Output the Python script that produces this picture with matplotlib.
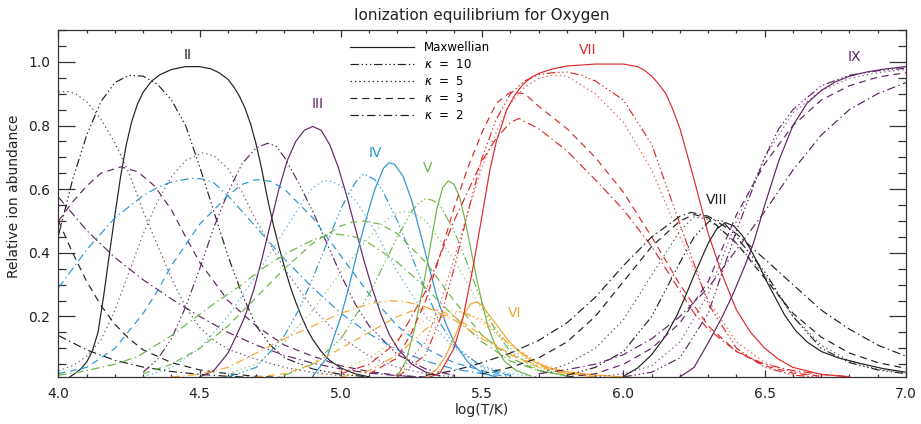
import matplotlib
matplotlib.use('Agg')
import matplotlib.pyplot as plt
from matplotlib.lines import Line2D

plt.rcParams['lines.scale_dashes'] = False
plt.rcParams['font.family'] = 'DejaVu Sans'

# ion fractions: (log T, relative abundance)
o2_max = [(4.04,0.01),(4.06,0.022),(4.08,0.036),(4.10,0.057),(4.12,0.092),(4.14,0.15),(4.16,0.265),(4.18,0.395),(4.20,0.52),(4.22,0.64),(4.24,0.74),(4.26,0.815),(4.28,0.868),(4.30,0.905),(4.33,0.94),(4.36,0.96),(4.40,0.976),(4.45,0.985),(4.50,0.985),(4.54,0.978),(4.57,0.965),(4.60,0.945),(4.62,0.922),(4.64,0.893),(4.66,0.855),(4.68,0.805),(4.70,0.74),(4.72,0.66),(4.74,0.57),(4.76,0.49),(4.78,0.42),(4.80,0.355),(4.82,0.295),(4.84,0.245),(4.86,0.20),(4.88,0.16),(4.90,0.128),(4.93,0.09),(4.96,0.062),(5.00,0.038),(5.05,0.02),(5.10,0.01)]
o2_k10 = [(4.00,0.455),(4.05,0.63),(4.10,0.77),(4.15,0.875),(4.20,0.935),(4.25,0.958),(4.30,0.955),(4.35,0.93),(4.40,0.88),(4.45,0.80),(4.50,0.67),(4.55,0.53),(4.60,0.39),(4.65,0.27),(4.70,0.17),(4.75,0.11),(4.80,0.07),(4.90,0.035),(5.00,0.018),(5.10,0.01)]
o2_k5 = [(4.00,0.905),(4.03,0.907),(4.06,0.90),(4.10,0.875),(4.15,0.82),(4.20,0.745),(4.25,0.65),(4.30,0.53),(4.35,0.425),(4.40,0.32),(4.45,0.23),(4.50,0.165),(4.55,0.125),(4.60,0.097),(4.70,0.065),(4.80,0.04),(4.90,0.024),(5.00,0.014)]
o2_k3 = [(4.00,0.50),(4.05,0.40),(4.10,0.31),(4.15,0.235),(4.20,0.175),(4.25,0.13),(4.30,0.095),(4.40,0.055),(4.50,0.032),(4.60,0.02),(4.70,0.012),(4.80,0.008)]
o2_k2 = [(4.00,0.14),(4.10,0.095),(4.20,0.062),(4.30,0.041),(4.40,0.027),(4.50,0.018),(4.60,0.012),(4.70,0.008)]

o3_max = [(4.50,0.01),(4.55,0.03),(4.60,0.085),(4.63,0.14),(4.66,0.20),(4.69,0.28),(4.72,0.38),(4.75,0.49),(4.78,0.60),(4.81,0.69),(4.84,0.75),(4.87,0.785),(4.90,0.797),(4.93,0.785),(4.96,0.74),(4.99,0.67),(5.02,0.58),(5.05,0.48),(5.08,0.38),(5.11,0.29),(5.14,0.21),(5.17,0.145),(5.20,0.10),(5.25,0.05),(5.30,0.025),(5.35,0.013)]
o3_k10 = [(4.30,0.025),(4.35,0.065),(4.40,0.13),(4.45,0.23),(4.50,0.35),(4.55,0.48),(4.60,0.59),(4.65,0.68),(4.70,0.73),(4.74,0.744),(4.77,0.735),(4.80,0.70),(4.85,0.62),(4.90,0.53),(4.95,0.43),(5.00,0.33),(5.05,0.24),(5.10,0.17),(5.20,0.08),(5.30,0.035),(5.40,0.015)]
o3_k5 = [(4.00,0.03),(4.05,0.045),(4.10,0.075),(4.15,0.125),(4.20,0.22),(4.25,0.34),(4.30,0.46),(4.35,0.56),(4.40,0.64),(4.45,0.69),(4.51,0.714),(4.55,0.705),(4.60,0.665),(4.65,0.59),(4.70,0.50),(4.80,0.35),(4.90,0.225),(5.00,0.135),(5.10,0.075),(5.20,0.04),(5.30,0.02),(5.40,0.01)]
o3_k3 = [(4.00,0.50),(4.05,0.56),(4.10,0.61),(4.15,0.65),(4.22,0.67),(4.28,0.655),(4.34,0.61),(4.40,0.535),(4.45,0.45),(4.50,0.37),(4.60,0.25),(4.70,0.17),(4.80,0.11),(4.90,0.075),(5.00,0.045),(5.10,0.027),(5.20,0.015),(5.30,0.009)]
o3_k2 = [(4.00,0.575),(4.10,0.47),(4.20,0.385),(4.30,0.315),(4.40,0.255),(4.50,0.20),(4.60,0.15),(4.70,0.11),(4.80,0.078),(4.90,0.053),(5.00,0.035),(5.10,0.022),(5.20,0.014),(5.30,0.009)]

o4_max = [(4.90,0.012),(4.95,0.07),(5.00,0.20),(5.03,0.30),(5.06,0.41),(5.09,0.51),(5.12,0.60),(5.15,0.665),(5.17,0.683),(5.19,0.678),(5.22,0.64),(5.25,0.565),(5.28,0.465),(5.31,0.36),(5.34,0.26),(5.37,0.18),(5.40,0.12),(5.45,0.055),(5.50,0.022),(5.55,0.01)]
o4_k10 = [(4.60,0.01),(4.70,0.04),(4.80,0.14),(4.85,0.22),(4.90,0.32),(4.95,0.43),(5.00,0.54),(5.05,0.62),(5.08,0.648),(5.12,0.63),(5.15,0.59),(5.20,0.50),(5.25,0.39),(5.30,0.28),(5.35,0.18),(5.40,0.11),(5.50,0.04),(5.60,0.015)]
o4_k5 = [(4.30,0.01),(4.40,0.04),(4.50,0.10),(4.60,0.20),(4.70,0.33),(4.80,0.47),(4.87,0.57),(4.90,0.605),(4.94,0.627),(4.97,0.624),(5.00,0.61),(5.05,0.565),(5.10,0.50),(5.20,0.34),(5.30,0.20),(5.40,0.10),(5.50,0.045),(5.60,0.02),(5.70,0.01)]
o4_k3 = [(4.00,0.02),(4.10,0.04),(4.20,0.10),(4.30,0.21),(4.35,0.28),(4.40,0.36),(4.50,0.49),(4.60,0.58),(4.65,0.615),(4.70,0.63),(4.75,0.625),(4.80,0.60),(4.90,0.51),(5.00,0.39),(5.10,0.27),(5.20,0.17),(5.30,0.10),(5.40,0.055),(5.50,0.03),(5.60,0.015)]
o4_k2 = [(4.00,0.29),(4.05,0.35),(4.10,0.41),(4.20,0.51),(4.30,0.58),(4.35,0.605),(4.40,0.623),(4.47,0.634),(4.51,0.632),(4.55,0.62),(4.61,0.57),(4.70,0.48),(4.80,0.38),(4.90,0.29),(5.00,0.21),(5.10,0.145),(5.20,0.095),(5.30,0.06),(5.40,0.035),(5.50,0.02),(5.60,0.012)]

o5_max = [(5.20,0.012),(5.23,0.06),(5.26,0.16),(5.29,0.29),(5.32,0.44),(5.34,0.54),(5.36,0.605),(5.38,0.626),(5.40,0.615),(5.42,0.575),(5.44,0.50),(5.46,0.41),(5.48,0.32),(5.50,0.24),(5.52,0.17),(5.55,0.10),(5.58,0.058),(5.62,0.03),(5.67,0.014)]
o5_k10 = [(4.80,0.015),(4.90,0.05),(5.00,0.13),(5.10,0.27),(5.20,0.45),(5.25,0.53),(5.275,0.557),(5.30,0.57),(5.325,0.565),(5.35,0.55),(5.40,0.47),(5.45,0.36),(5.50,0.24),(5.55,0.15),(5.60,0.09),(5.70,0.03),(5.80,0.012)]
o5_k5 = [(4.60,0.02),(4.70,0.05),(4.80,0.12),(4.90,0.22),(5.00,0.34),(5.10,0.45),(5.17,0.51),(5.20,0.525),(5.23,0.53),(5.265,0.522),(5.30,0.50),(5.40,0.38),(5.50,0.22),(5.60,0.10),(5.70,0.04),(5.80,0.015)]
o5_k3 = [(4.30,0.02),(4.40,0.05),(4.50,0.10),(4.60,0.17),(4.70,0.26),(4.80,0.35),(4.90,0.43),(5.00,0.485),(5.04,0.496),(5.08,0.50),(5.14,0.49),(5.20,0.46),(5.30,0.37),(5.40,0.25),(5.50,0.14),(5.60,0.07),(5.70,0.03),(5.80,0.013)]
o5_k2 = [(4.00,0.015),(4.10,0.03),(4.20,0.05),(4.28,0.074),(4.40,0.14),(4.46,0.18),(4.55,0.24),(4.64,0.294),(4.72,0.35),(4.81,0.40),(4.90,0.44),(4.97,0.461),(5.05,0.45),(5.10,0.43),(5.20,0.37),(5.30,0.29),(5.40,0.20),(5.50,0.12),(5.60,0.06),(5.70,0.03),(5.80,0.015)]

o6_max = [(5.30,0.01),(5.34,0.035),(5.37,0.075),(5.40,0.13),(5.42,0.175),(5.44,0.215),(5.46,0.24),(5.48,0.245),(5.50,0.235),(5.52,0.21),(5.55,0.175),(5.59,0.127),(5.63,0.09),(5.67,0.064),(5.73,0.04),(5.80,0.026),(5.90,0.016),(6.00,0.01)]
o6_k10 = [(5.00,0.01),(5.10,0.03),(5.20,0.08),(5.30,0.16),(5.36,0.20),(5.42,0.215),(5.50,0.19),(5.60,0.11),(5.70,0.05),(5.80,0.02),(5.90,0.01)]
o6_k5 = [(4.90,0.01),(5.00,0.03),(5.10,0.07),(5.20,0.13),(5.30,0.19),(5.38,0.22),(5.45,0.21),(5.50,0.18),(5.60,0.11),(5.70,0.055),(5.80,0.025),(5.90,0.012)]
o6_k3 = [(4.70,0.01),(4.80,0.02),(4.90,0.05),(5.00,0.10),(5.10,0.15),(5.20,0.20),(5.25,0.217),(5.30,0.225),(5.35,0.218),(5.40,0.20),(5.50,0.14),(5.60,0.08),(5.70,0.04),(5.80,0.02),(5.90,0.01)]
o6_k2 = [(4.40,0.01),(4.50,0.018),(4.60,0.04),(4.70,0.085),(4.80,0.13),(4.90,0.17),(5.00,0.21),(5.10,0.24),(5.17,0.25),(5.23,0.246),(5.30,0.23),(5.40,0.19),(5.50,0.13),(5.60,0.08),(5.70,0.045),(5.80,0.022),(5.90,0.011)]

o7_max = [(5.30,0.005),(5.35,0.022),(5.40,0.10),(5.433,0.20),(5.468,0.357),(5.50,0.52),(5.527,0.66),(5.55,0.75),(5.587,0.85),(5.615,0.895),(5.645,0.93),(5.675,0.952),(5.704,0.965),(5.75,0.978),(5.80,0.987),(5.90,0.993),(6.00,0.993),(6.05,0.985),(6.075,0.973),(6.10,0.955),(6.125,0.93),(6.15,0.90),(6.175,0.85),(6.20,0.79),(6.225,0.71),(6.25,0.63),(6.275,0.545),(6.30,0.46),(6.35,0.33),(6.40,0.22),(6.45,0.15),(6.50,0.10),(6.55,0.065),(6.60,0.04),(6.70,0.018),(6.80,0.01)]
o7_k10 = [(5.20,0.01),(5.30,0.08),(5.35,0.19),(5.40,0.35),(5.45,0.53),(5.50,0.70),(5.55,0.82),(5.60,0.90),(5.65,0.94),(5.70,0.96),(5.75,0.966),(5.80,0.968),(5.85,0.958),(5.90,0.94),(6.00,0.88),(6.10,0.74),(6.20,0.49),(6.30,0.24),(6.40,0.10),(6.50,0.04),(6.60,0.016),(6.70,0.008)]
o7_k5 = [(5.20,0.02),(5.30,0.12),(5.35,0.24),(5.40,0.38),(5.45,0.53),(5.50,0.67),(5.55,0.78),(5.60,0.87),(5.65,0.92),(5.70,0.948),(5.75,0.958),(5.80,0.955),(5.90,0.90),(6.00,0.81),(6.10,0.66),(6.20,0.45),(6.30,0.25),(6.40,0.12),(6.50,0.055),(6.60,0.025),(6.70,0.012)]
o7_k3 = [(5.10,0.02),(5.20,0.07),(5.25,0.15),(5.30,0.25),(5.35,0.39),(5.40,0.54),(5.45,0.67),(5.50,0.78),(5.55,0.87),(5.60,0.905),(5.65,0.90),(5.70,0.86),(5.80,0.79),(5.90,0.70),(6.00,0.59),(6.10,0.45),(6.20,0.30),(6.30,0.17),(6.40,0.09),(6.50,0.045),(6.60,0.022),(6.70,0.012)]
o7_k2 = [(5.00,0.02),(5.10,0.05),(5.20,0.12),(5.30,0.28),(5.40,0.50),(5.50,0.69),(5.55,0.76),(5.60,0.81),(5.63,0.822),(5.70,0.79),(5.80,0.72),(5.90,0.63),(6.00,0.535),(6.10,0.42),(6.20,0.28),(6.25,0.21),(6.30,0.16),(6.40,0.09),(6.50,0.05),(6.60,0.03),(6.70,0.018),(6.80,0.011)]

o8_max = [(6.00,0.012),(6.05,0.038),(6.10,0.08),(6.15,0.14),(6.19,0.205),(6.22,0.265),(6.25,0.33),(6.28,0.39),(6.30,0.43),(6.33,0.475),(6.36,0.495),(6.39,0.485),(6.42,0.455),(6.45,0.41),(6.48,0.36),(6.51,0.305),(6.54,0.255),(6.57,0.205),(6.61,0.155),(6.65,0.12),(6.70,0.09),(6.76,0.07),(6.84,0.052),(6.92,0.036),(7.00,0.025)]
o8_k10 = [(5.80,0.015),(5.90,0.04),(6.00,0.09),(6.10,0.20),(6.20,0.37),(6.25,0.45),(6.31,0.505),(6.35,0.50),(6.40,0.45),(6.50,0.34),(6.60,0.20),(6.70,0.10),(6.80,0.055),(6.90,0.032),(7.00,0.02)]
o8_k5 = [(5.70,0.02),(5.80,0.05),(5.90,0.10),(6.00,0.19),(6.10,0.33),(6.20,0.47),(6.25,0.513),(6.30,0.505),(6.40,0.43),(6.50,0.33),(6.60,0.20),(6.70,0.11),(6.80,0.06),(6.90,0.035),(7.00,0.022)]
o8_k3 = [(5.50,0.02),(5.60,0.04),(5.70,0.07),(5.80,0.12),(5.90,0.20),(6.00,0.31),(6.10,0.42),(6.20,0.50),(6.25,0.52),(6.30,0.51),(6.40,0.43),(6.50,0.32),(6.60,0.21),(6.70,0.135),(6.80,0.085),(6.90,0.055),(7.00,0.037)]
o8_k2 = [(5.30,0.015),(5.40,0.03),(5.50,0.055),(5.60,0.085),(5.70,0.125),(5.80,0.18),(5.90,0.26),(6.00,0.36),(6.10,0.45),(6.20,0.515),(6.24,0.527),(6.30,0.515),(6.40,0.46),(6.50,0.38),(6.60,0.30),(6.70,0.22),(6.80,0.16),(6.90,0.11),(7.00,0.075)]

o9_max = [(6.20,0.01),(6.25,0.04),(6.306,0.127),(6.35,0.20),(6.389,0.273),(6.43,0.36),(6.46,0.43),(6.50,0.55),(6.55,0.69),(6.60,0.80),(6.65,0.87),(6.70,0.91),(6.75,0.937),(6.80,0.955),(6.86,0.968),(6.93,0.978),(7.00,0.985)]
o9_k10 = [(6.00,0.01),(6.10,0.025),(6.20,0.07),(6.30,0.21),(6.40,0.47),(6.50,0.70),(6.55,0.79),(6.60,0.85),(6.70,0.925),(6.80,0.958),(6.90,0.972),(7.00,0.98)]
o9_k5 = [(5.90,0.01),(6.00,0.02),(6.10,0.045),(6.20,0.12),(6.30,0.27),(6.40,0.50),(6.50,0.70),(6.60,0.84),(6.70,0.91),(6.80,0.948),(6.90,0.966),(7.00,0.976)]
o9_k3 = [(5.80,0.01),(5.90,0.02),(6.00,0.05),(6.10,0.10),(6.20,0.18),(6.30,0.31),(6.40,0.52),(6.50,0.68),(6.60,0.80),(6.70,0.88),(6.80,0.925),(6.90,0.952),(7.00,0.966)]
o9_k2 = [(5.70,0.02),(5.80,0.033),(5.90,0.05),(6.00,0.08),(6.10,0.13),(6.20,0.20),(6.30,0.29),(6.40,0.41),(6.50,0.53),(6.60,0.66),(6.70,0.77),(6.80,0.85),(6.90,0.90),(7.00,0.935)]

ions = ['II', 'III', 'IV', 'V', 'VI', 'VII', 'VIII', 'IX']
ion_colors = ['#202020', '#5e2463', '#2a93d5', '#6db446', '#f2a72e', '#dc2a2a', '#202020', '#5e2463']
ion_curves = [
    [o2_max, o2_k10, o2_k5, o2_k3, o2_k2],
    [o3_max, o3_k10, o3_k5, o3_k3, o3_k2],
    [o4_max, o4_k10, o4_k5, o4_k3, o4_k2],
    [o5_max, o5_k10, o5_k5, o5_k3, o5_k2],
    [o6_max, o6_k10, o6_k5, o6_k3, o6_k2],
    [o7_max, o7_k10, o7_k5, o7_k3, o7_k2],
    [o8_max, o8_k10, o8_k5, o8_k3, o8_k2],
    [o9_max, o9_k10, o9_k5, o9_k3, o9_k2],
]
# label spots for the ion names
label_x = [4.458, 4.919, 5.12, 5.308, 5.616, 5.874, 6.331, 6.816]
label_y = [1.021, 0.867, 0.713, 0.666, 0.211, 1.037, 0.566, 1.016]

dist_names = ['Maxwellian', r'$\kappa$  =  10', r'$\kappa$  =  5', r'$\kappa$  =  3', r'$\kappa$  =  2']
styles = ['-', (0, (6, 2, 1, 2, 1, 2, 1, 2)), (0, (1, 2.2)), (0, (5, 3.5)), (0, (6, 2.5, 1, 2.5))]
alphas = [1.0, 1.0, 0.75, 1.0, 1.0]  # dotted lines come out paler in the original

fig = plt.figure(figsize=(9.21, 4.24), dpi=100)
ax = fig.add_axes([0.0635, 0.111, 0.9202, 0.8182])

for curves, col in zip(ion_curves, ion_colors):
    for pts, ls, a in zip(curves, styles, alphas):
        x = [p[0] for p in pts]
        y = [p[1] for p in pts]
        ax.plot(x, y, color=col, ls=ls, lw=0.85, alpha=a)

for name, lx, ly, col in zip(ions, label_x, label_y, ion_colors):
    ax.text(lx, ly, name, color=col, fontsize=10, ha='center', va='center')

ax.set_xlim(4.0, 7.0)
ax.set_ylim(0.01, 1.1)
ax.set_xticks([4.0, 4.5, 5.0, 5.5, 6.0, 6.5, 7.0])
ax.set_xticks([4 + 0.1 * i for i in range(31)], minor=True)
ax.set_yticks([0.2, 0.4, 0.6, 0.8, 1.0])
ax.set_yticks([0.05 * i for i in range(1, 23)], minor=True)
ax.tick_params(which='both', direction='in', top=True, right=True, labelsize=10, width=0.9,
               color='#333333', labelcolor='#222222')
ax.tick_params(axis='x', which='major', length=5, pad=7)
ax.tick_params(axis='x', which='minor', length=2.5)
ax.tick_params(axis='y', which='major', length=12, pad=6)
ax.tick_params(axis='y', which='minor', length=6)
for s in ax.spines.values():
    s.set_linewidth(0.9)
    s.set_color('#333333')

ax.set_xlabel('log(T/K)', fontsize=10, labelpad=2, color='#222222')
ax.set_ylabel('Relative ion abundance', fontsize=10, color='#222222')
ax.yaxis.set_label_coords(-0.0437, 0.52)
ax.set_title('Ionization equilibrium for Oxygen', fontsize=11, pad=7, color='#222222')

handles = [Line2D([], [], color='#202020', ls=ls, lw=0.85) for ls in styles]
ax.legend(handles, dist_names, loc='upper left', bbox_to_anchor=(0.332, 1.0), frameon=False,
          fontsize=8.5, handlelength=5.4, handletextpad=0.8, labelspacing=0.35)

fig.savefig('out.png', dpi=100)
